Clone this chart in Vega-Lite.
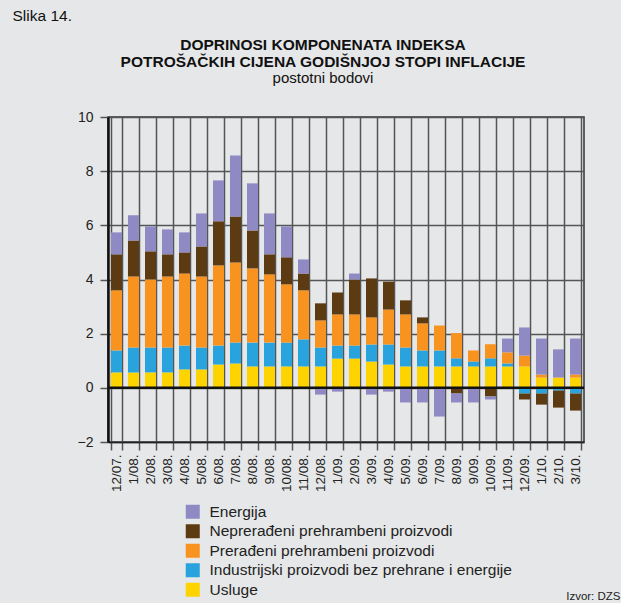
{
"$schema": "https://vega.github.io/schema/vega-lite/v6.json",
"width": 476, "height": 325,
"autosize": {"type": "none"},
"padding": {"left": 108, "top": 117, "right": 37, "bottom": 161},
"background": "#e6e7e8",
"config": {"font": "Liberation Sans", "view": {"stroke": "#333", "strokeWidth": 1.5, "fill": "#e6e7e8"}},
"title": {"text": ["DOPRINOSI KOMPONENATA INDEKSA", "POTROŠAČKIH CIJENA GODIŠNJOJ STOPI INFLACIJE"], "subtitle": "postotni bodovi", "anchor": "middle", "dx": -23, "offset": -78, "fontSize": 15.5, "fontWeight": "bold", "lineHeight": 17, "color": "#111", "subtitleFontSize": 15, "subtitleColor": "#111", "subtitlePadding": 1},
"datasets": {"d": [
{"m":"12/07.","k":1,"c":"Usluge","v":0.57},{"m":"12/07.","k":2,"c":"Industrijski proizvodi bez prehrane i energije","v":0.81},{"m":"12/07.","k":3,"c":"Prerađeni prehrambeni proizvodi","v":2.22},{"m":"12/07.","k":4,"c":"Neprerađeni prehrambeni proizvodi","v":1.33},{"m":"12/07.","k":5,"c":"Energija","v":0.81},
{"m":"1/08.","k":1,"c":"Usluge","v":0.57},{"m":"1/08.","k":2,"c":"Industrijski proizvodi bez prehrane i energije","v":0.92},{"m":"1/08.","k":3,"c":"Prerađeni prehrambeni proizvodi","v":2.62},{"m":"1/08.","k":4,"c":"Neprerađeni prehrambeni proizvodi","v":1.33},{"m":"1/08.","k":5,"c":"Energija","v":0.93},
{"m":"2/08.","k":1,"c":"Usluge","v":0.57},{"m":"2/08.","k":2,"c":"Industrijski proizvodi bez prehrane i energije","v":0.92},{"m":"2/08.","k":3,"c":"Prerađeni prehrambeni proizvodi","v":2.51},{"m":"2/08.","k":4,"c":"Neprerađeni prehrambeni proizvodi","v":1.04},{"m":"2/08.","k":5,"c":"Energija","v":0.92},
{"m":"3/08.","k":1,"c":"Usluge","v":0.57},{"m":"3/08.","k":2,"c":"Industrijski proizvodi bez prehrane i energije","v":0.92},{"m":"3/08.","k":3,"c":"Prerađeni prehrambeni proizvodi","v":2.62},{"m":"3/08.","k":4,"c":"Neprerađeni prehrambeni proizvodi","v":0.82},{"m":"3/08.","k":5,"c":"Energija","v":0.92},
{"m":"4/08.","k":1,"c":"Usluge","v":0.68},{"m":"4/08.","k":2,"c":"Industrijski proizvodi bez prehrane i energije","v":0.88},{"m":"4/08.","k":3,"c":"Prerađeni prehrambeni proizvodi","v":2.66},{"m":"4/08.","k":4,"c":"Neprerađeni prehrambeni proizvodi","v":0.78},{"m":"4/08.","k":5,"c":"Energija","v":0.74},
{"m":"5/08.","k":1,"c":"Usluge","v":0.68},{"m":"5/08.","k":2,"c":"Industrijski proizvodi bez prehrane i energije","v":0.81},{"m":"5/08.","k":3,"c":"Prerađeni prehrambeni proizvodi","v":2.62},{"m":"5/08.","k":4,"c":"Neprerađeni prehrambeni proizvodi","v":1.11},{"m":"5/08.","k":5,"c":"Energija","v":1.22},
{"m":"6/08.","k":1,"c":"Usluge","v":0.86},{"m":"6/08.","k":2,"c":"Industrijski proizvodi bez prehrane i energije","v":0.70},{"m":"6/08.","k":3,"c":"Prerađeni prehrambeni proizvodi","v":2.96},{"m":"6/08.","k":4,"c":"Neprerađeni prehrambeni proizvodi","v":1.63},{"m":"6/08.","k":5,"c":"Energija","v":1.51},
{"m":"7/08.","k":1,"c":"Usluge","v":0.90},{"m":"7/08.","k":2,"c":"Industrijski proizvodi bez prehrane i energije","v":0.77},{"m":"7/08.","k":3,"c":"Prerađeni prehrambeni proizvodi","v":2.96},{"m":"7/08.","k":4,"c":"Neprerađeni prehrambeni proizvodi","v":1.70},{"m":"7/08.","k":5,"c":"Energija","v":2.25},
{"m":"8/08.","k":1,"c":"Usluge","v":0.79},{"m":"8/08.","k":2,"c":"Industrijski proizvodi bez prehrane i energije","v":0.88},{"m":"8/08.","k":3,"c":"Prerađeni prehrambeni proizvodi","v":2.74},{"m":"8/08.","k":4,"c":"Neprerađeni prehrambeni proizvodi","v":1.40},{"m":"8/08.","k":5,"c":"Energija","v":1.74},
{"m":"9/08.","k":1,"c":"Usluge","v":0.79},{"m":"9/08.","k":2,"c":"Industrijski proizvodi bez prehrane i energije","v":0.88},{"m":"9/08.","k":3,"c":"Prerađeni prehrambeni proizvodi","v":2.52},{"m":"9/08.","k":4,"c":"Neprerađeni prehrambeni proizvodi","v":0.74},{"m":"9/08.","k":5,"c":"Energija","v":1.51},
{"m":"10/08.","k":1,"c":"Usluge","v":0.79},{"m":"10/08.","k":2,"c":"Industrijski proizvodi bez prehrane i energije","v":0.88},{"m":"10/08.","k":3,"c":"Prerađeni prehrambeni proizvodi","v":2.15},{"m":"10/08.","k":4,"c":"Neprerađeni prehrambeni proizvodi","v":1.00},{"m":"10/08.","k":5,"c":"Energija","v":1.14},
{"m":"11/08.","k":1,"c":"Usluge","v":0.79},{"m":"11/08.","k":2,"c":"Industrijski proizvodi bez prehrane i energije","v":1.00},{"m":"11/08.","k":3,"c":"Prerađeni prehrambeni proizvodi","v":1.81},{"m":"11/08.","k":4,"c":"Neprerađeni prehrambeni proizvodi","v":0.62},{"m":"11/08.","k":5,"c":"Energija","v":0.52},
{"m":"12/08.","k":1,"c":"Usluge","v":0.79},{"m":"12/08.","k":2,"c":"Industrijski proizvodi bez prehrane i energije","v":0.70},{"m":"12/08.","k":3,"c":"Prerađeni prehrambeni proizvodi","v":1.00},{"m":"12/08.","k":4,"c":"Neprerađeni prehrambeni proizvodi","v":0.63},{"m":"12/08.","k":5,"c":"Energija","v":-0.25},
{"m":"1/09.","k":1,"c":"Usluge","v":1.08},{"m":"1/09.","k":2,"c":"Industrijski proizvodi bez prehrane i energije","v":0.48},{"m":"1/09.","k":3,"c":"Prerađeni prehrambeni proizvodi","v":1.15},{"m":"1/09.","k":4,"c":"Neprerađeni prehrambeni proizvodi","v":0.81},{"m":"1/09.","k":5,"c":"Energija","v":-0.14},
{"m":"2/09.","k":1,"c":"Usluge","v":1.08},{"m":"2/09.","k":2,"c":"Industrijski proizvodi bez prehrane i energije","v":0.48},{"m":"2/09.","k":3,"c":"Prerađeni prehrambeni proizvodi","v":1.15},{"m":"2/09.","k":4,"c":"Neprerađeni prehrambeni proizvodi","v":1.29},{"m":"2/09.","k":5,"c":"Energija","v":0.22},
{"m":"3/09.","k":1,"c":"Usluge","v":0.97},{"m":"3/09.","k":2,"c":"Industrijski proizvodi bez prehrane i energije","v":0.63},{"m":"3/09.","k":3,"c":"Prerađeni prehrambeni proizvodi","v":1.00},{"m":"3/09.","k":4,"c":"Neprerađeni prehrambeni proizvodi","v":1.44},{"m":"3/09.","k":5,"c":"Energija","v":-0.25},
{"m":"4/09.","k":1,"c":"Usluge","v":0.86},{"m":"4/09.","k":2,"c":"Industrijski proizvodi bez prehrane i energije","v":0.74},{"m":"4/09.","k":3,"c":"Prerađeni prehrambeni proizvodi","v":1.29},{"m":"4/09.","k":4,"c":"Neprerađeni prehrambeni proizvodi","v":1.03},{"m":"4/09.","k":5,"c":"Energija","v":-0.14},
{"m":"5/09.","k":1,"c":"Usluge","v":0.79},{"m":"5/09.","k":2,"c":"Industrijski proizvodi bez prehrane i energije","v":0.70},{"m":"5/09.","k":3,"c":"Prerađeni prehrambeni proizvodi","v":1.22},{"m":"5/09.","k":4,"c":"Neprerađeni prehrambeni proizvodi","v":0.52},{"m":"5/09.","k":5,"c":"Energija","v":-0.54},
{"m":"6/09.","k":1,"c":"Usluge","v":0.79},{"m":"6/09.","k":2,"c":"Industrijski proizvodi bez prehrane i energije","v":0.59},{"m":"6/09.","k":3,"c":"Prerađeni prehrambeni proizvodi","v":1.00},{"m":"6/09.","k":4,"c":"Neprerađeni prehrambeni proizvodi","v":0.22},{"m":"6/09.","k":5,"c":"Energija","v":-0.54},
{"m":"7/09.","k":1,"c":"Usluge","v":0.79},{"m":"7/09.","k":2,"c":"Industrijski proizvodi bez prehrane i energije","v":0.59},{"m":"7/09.","k":3,"c":"Prerađeni prehrambeni proizvodi","v":0.92},{"m":"7/09.","k":4,"c":"Neprerađeni prehrambeni proizvodi","v":0},{"m":"7/09.","k":5,"c":"Energija","v":-1.06},
{"m":"8/09.","k":1,"c":"Usluge","v":0.79},{"m":"8/09.","k":2,"c":"Industrijski proizvodi bez prehrane i energije","v":0.30},{"m":"8/09.","k":3,"c":"Prerađeni prehrambeni proizvodi","v":0.93},{"m":"8/09.","k":4,"c":"Neprerađeni prehrambeni proizvodi","v":-0.21},{"m":"8/09.","k":5,"c":"Energija","v":-0.33},
{"m":"9/09.","k":1,"c":"Usluge","v":0.79},{"m":"9/09.","k":2,"c":"Industrijski proizvodi bez prehrane i energije","v":0.18},{"m":"9/09.","k":3,"c":"Prerađeni prehrambeni proizvodi","v":0.41},{"m":"9/09.","k":4,"c":"Neprerađeni prehrambeni proizvodi","v":0},{"m":"9/09.","k":5,"c":"Energija","v":-0.54},
{"m":"10/09.","k":1,"c":"Usluge","v":0.79},{"m":"10/09.","k":2,"c":"Industrijski proizvodi bez prehrane i energije","v":0.30},{"m":"10/09.","k":3,"c":"Prerađeni prehrambeni proizvodi","v":0.52},{"m":"10/09.","k":4,"c":"Neprerađeni prehrambeni proizvodi","v":-0.32},{"m":"10/09.","k":5,"c":"Energija","v":-0.11},
{"m":"11/09.","k":1,"c":"Usluge","v":0.79},{"m":"11/09.","k":2,"c":"Industrijski proizvodi bez prehrane i energije","v":0.11},{"m":"11/09.","k":3,"c":"Prerađeni prehrambeni proizvodi","v":0.41},{"m":"11/09.","k":4,"c":"Neprerađeni prehrambeni proizvodi","v":0},{"m":"11/09.","k":5,"c":"Energija","v":0.51},
{"m":"12/09.","k":1,"c":"Usluge","v":0.79},{"m":"12/09.","k":2,"c":"Industrijski proizvodi bez prehrane i energije","v":-0.21},{"m":"12/09.","k":3,"c":"Prerađeni prehrambeni proizvodi","v":0.40},{"m":"12/09.","k":4,"c":"Neprerađeni prehrambeni proizvodi","v":-0.22},{"m":"12/09.","k":5,"c":"Energija","v":1.04},
{"m":"1/10.","k":1,"c":"Usluge","v":0.38},{"m":"1/10.","k":2,"c":"Industrijski proizvodi bez prehrane i energije","v":-0.21},{"m":"1/10.","k":3,"c":"Prerađeni prehrambeni proizvodi","v":0.11},{"m":"1/10.","k":4,"c":"Neprerađeni prehrambeni proizvodi","v":-0.41},{"m":"1/10.","k":5,"c":"Energija","v":1.33},
{"m":"2/10.","k":1,"c":"Usluge","v":0.38},{"m":"2/10.","k":2,"c":"Industrijski proizvodi bez prehrane i energije","v":-0.10},{"m":"2/10.","k":3,"c":"Prerađeni prehrambeni proizvodi","v":0},{"m":"2/10.","k":4,"c":"Neprerađeni prehrambeni proizvodi","v":-0.63},{"m":"2/10.","k":5,"c":"Energija","v":1.04},
{"m":"3/10.","k":1,"c":"Usluge","v":0.38},{"m":"3/10.","k":2,"c":"Industrijski proizvodi bez prehrane i energije","v":-0.21},{"m":"3/10.","k":3,"c":"Prerađeni prehrambeni proizvodi","v":0.11},{"m":"3/10.","k":4,"c":"Neprerađeni prehrambeni proizvodi","v":-0.63},{"m":"3/10.","k":5,"c":"Energija","v":1.33}
]},
"layer": [
{"data": {"name": "d"},
 "mark": {"type": "bar"},
 "encoding": {
  "x": {"field": "m", "type": "nominal", "sort": null, "scale": {"paddingInner": 0.35, "paddingOuter": 0.175},
   "axis": {"tickBand": "extent", "grid": true, "gridColor": "#555", "gridWidth": 1.5, "domainColor": "#222", "domainWidth": 1.5, "tickSize": 8, "tickColor": "#555", "tickWidth": 1.5, "labelAngle": 270, "labelAlign": "right", "labelBaseline": "middle", "labelPadding": 4, "labelFontSize": 13.5, "labelColor": "#222", "title": "Izvor: DZS", "titleX": 512, "titleY": 154, "titleAlign": "right", "titleBaseline": "middle", "titleFontSize": 11.5, "titleFontWeight": "normal", "titleColor": "#222"}},
  "y": {"field": "v", "type": "quantitative", "stack": "zero", "scale": {"domain": [-2, 10], "nice": false},
   "axis": {"values": [-2, 0, 2, 4, 6, 8, 10], "grid": true, "gridColor": "#555", "gridWidth": 1.5, "domainColor": "#111", "domainWidth": 2.5, "tickSize": 8, "tickColor": "#555", "tickWidth": 1.5, "labelFontSize": 14, "labelColor": "#222", "labelPadding": 7, "title": "Slika 14.", "titleAngle": 0, "titleAlign": "left", "titleBaseline": "middle", "titleX": -96, "titleY": -102, "titleFontSize": 15.5, "titleFontWeight": "normal", "titleColor": "#111"}},
  "color": {"field": "c", "type": "nominal",
   "scale": {"domain": ["Energija", "Neprerađeni prehrambeni proizvodi", "Prerađeni prehrambeni proizvodi", "Industrijski proizvodi bez prehrane i energije", "Usluge"], "range": ["#8f8ac4", "#5c3a12", "#f7931e", "#29a3dd", "#fdd300"]},
   "legend": {"orient": "none", "legendX": 77, "legendY": 387, "title": null, "symbolType": "square", "symbolSize": 196, "symbolStrokeWidth": 0, "symbolOpacity": 1, "labelFontSize": 15.5, "labelColor": "#222", "labelOffset": 9, "rowPadding": 2.5, "padding": 0, "labelLimit": 400}},
  "order": {"field": "k", "type": "quantitative", "sort": "ascending"}
 }},
{"data": {"values": [{}]},
 "mark": {"type": "rule", "color": "#111", "strokeWidth": 2.5},
 "encoding": {"y": {"datum": 0}}}
]
}
